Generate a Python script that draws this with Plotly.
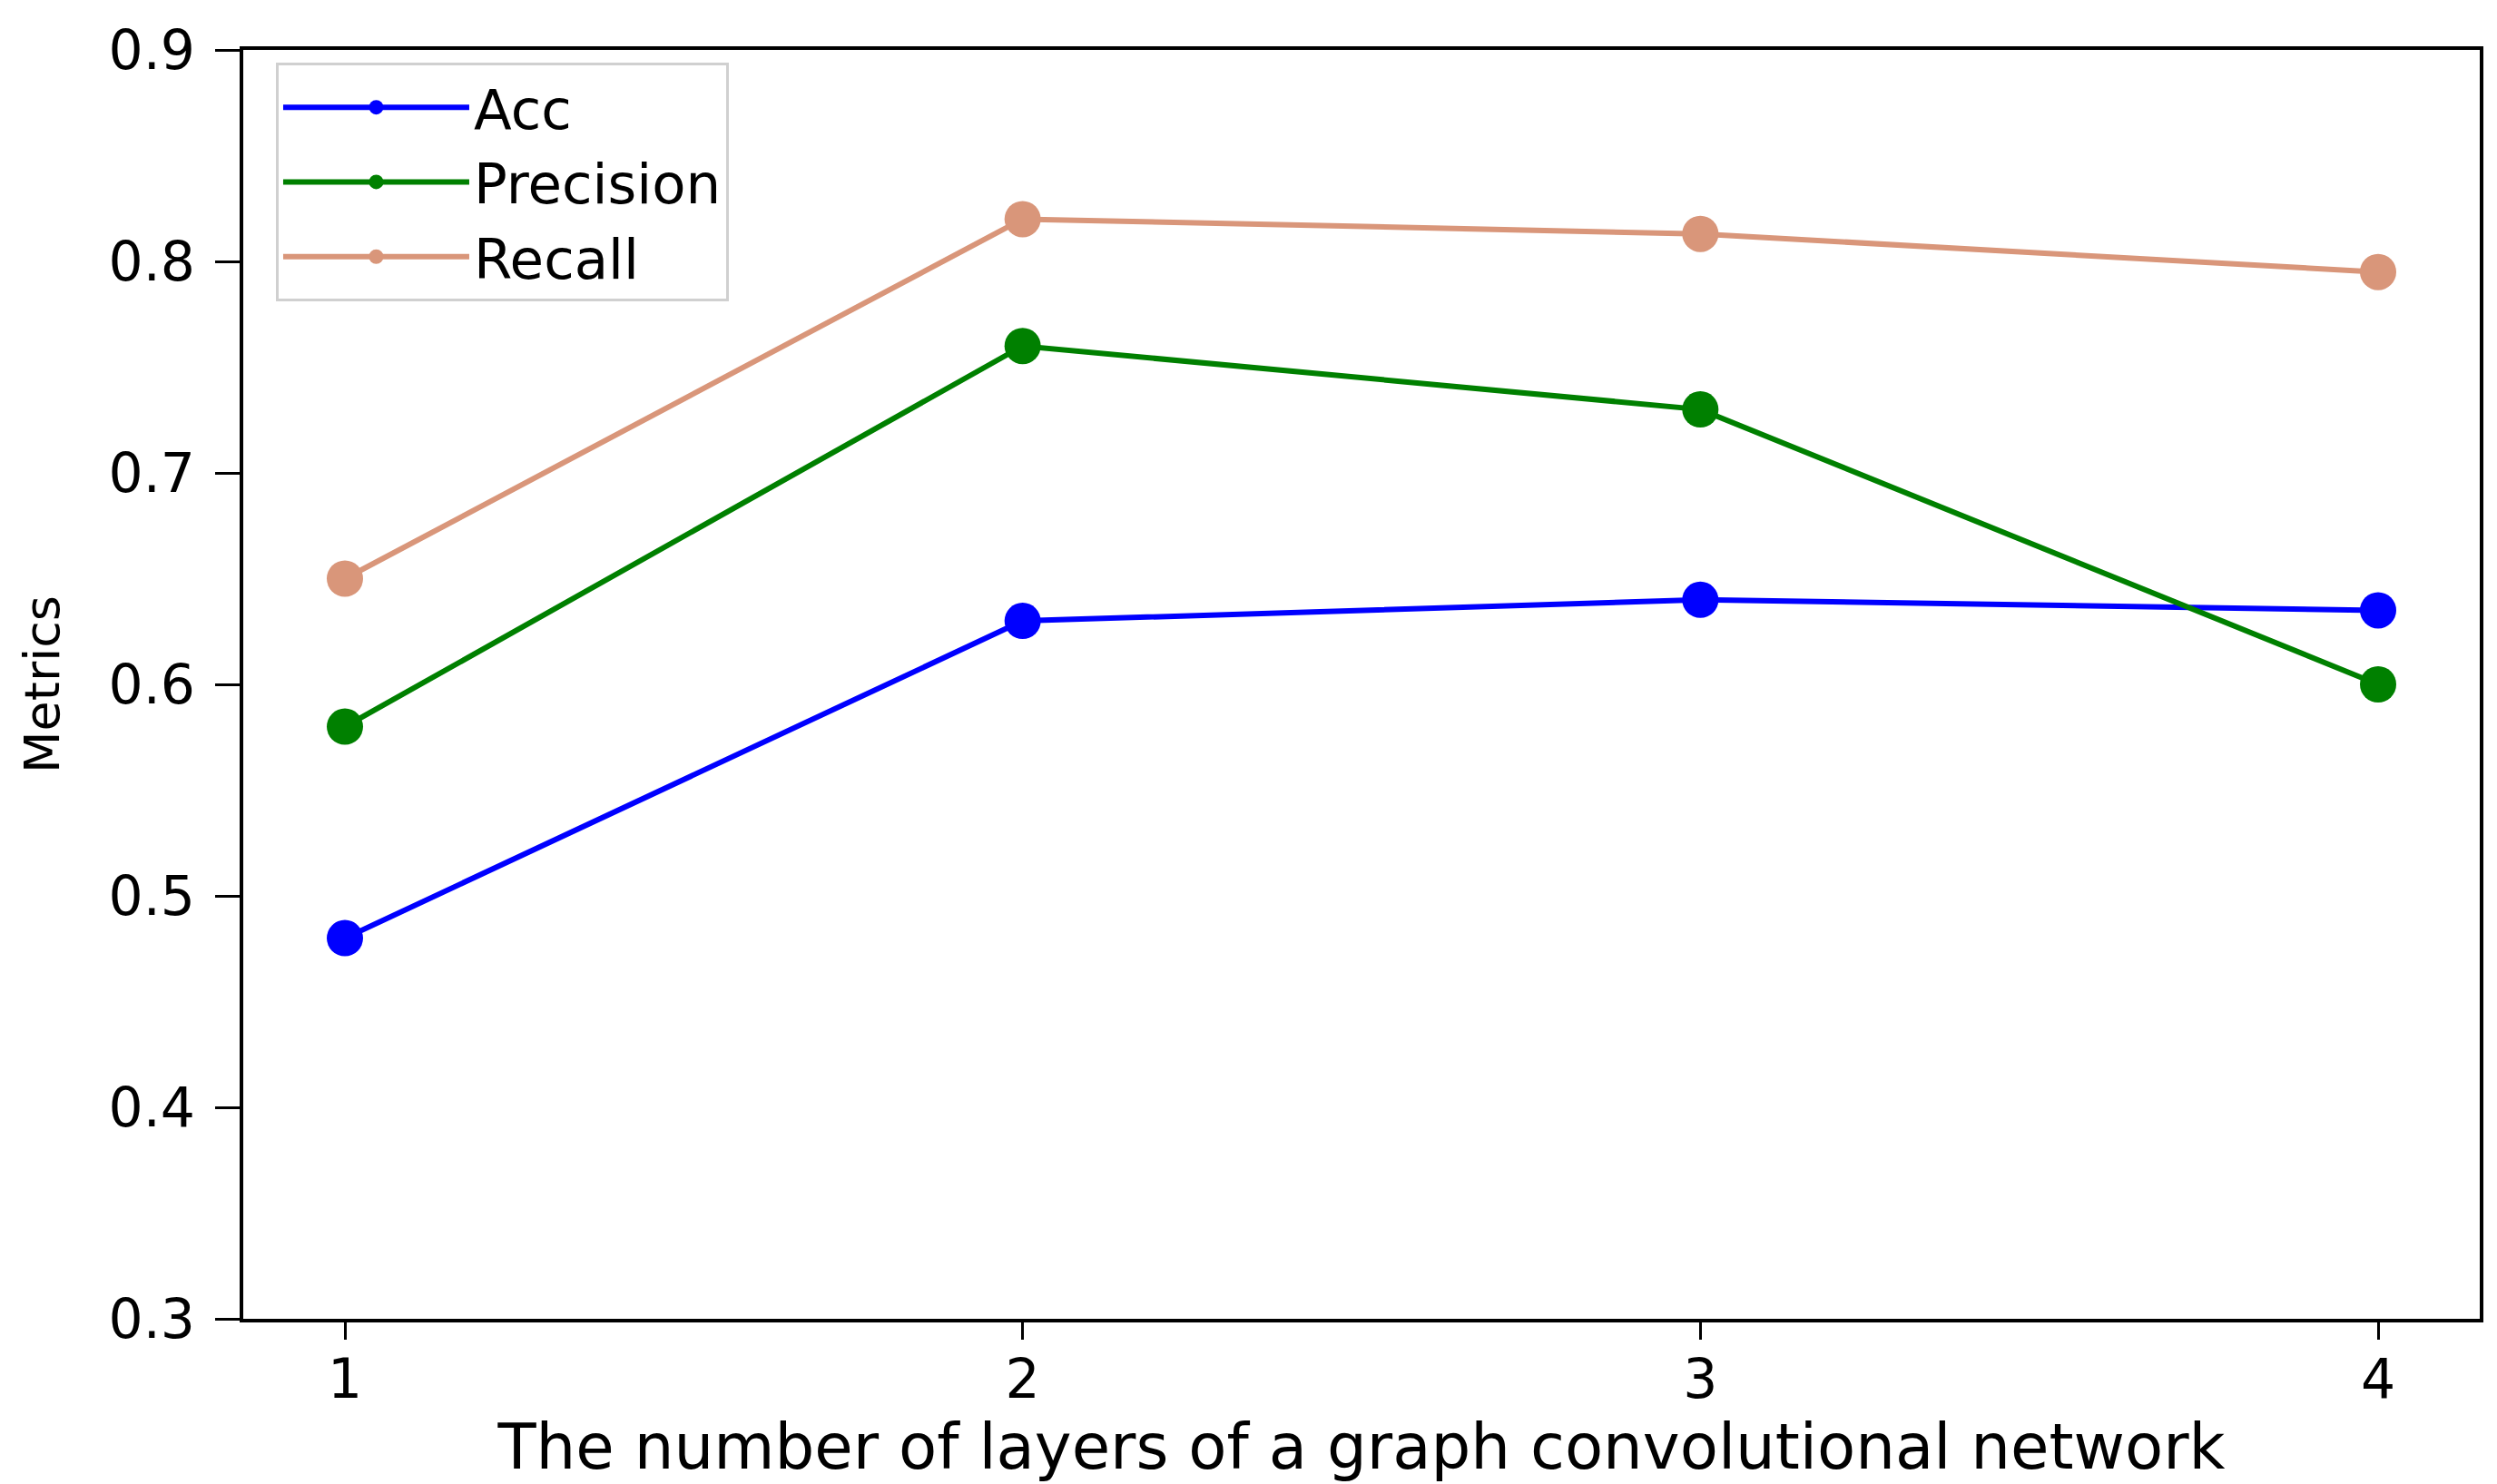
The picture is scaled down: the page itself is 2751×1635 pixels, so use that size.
import plotly.graph_objects as go

layers = [1, 2, 3, 4]
acc = [0.48, 0.63, 0.64, 0.635]
precision = [0.58, 0.76, 0.73, 0.60]
recall = [0.65, 0.82, 0.813, 0.795]

series = [("Acc", acc, "#0000FF"), ("Precision", precision, "#008000"), ("Recall", recall, "#D9967A")]

FONT = "DejaVu Sans"

fig = go.Figure()
for name, vals, color in series:
    fig.add_trace(go.Scatter(
        x=layers, y=vals, name=name, mode="lines+markers",
        line=dict(color=color, width=6),
        marker=dict(color=color, size=40),
    ))

fig.update_layout(
    width=2751, height=1635,
    paper_bgcolor="white", plot_bgcolor="white",
    margin=dict(l=260, r=27, t=36, b=190),
    font=dict(family=FONT, size=58, color="black"),
    legend=dict(
        x=0.0146, y=0.99, xanchor="left", yanchor="top",
        bgcolor="white", bordercolor="#D0D0D0", borderwidth=3,
        font=dict(family=FONT, size=61, color="black"),
        itemwidth=205, itemsizing="trace",
    ),
    showlegend=True,
)
fig.update_xaxes(
    range=[0.85, 4.15], tickvals=layers, ticktext=[str(v) for v in layers],
    showline=True, linecolor="black", linewidth=4, mirror=True,
    ticks="outside", ticklen=19, tickwidth=3, tickcolor="black",
    showgrid=False, zeroline=False, ticklabelstandoff=-8,
    title=dict(text="The number of layers of a graph convolutional network", standoff=2,
               font=dict(family=FONT, size=69)),
    tickfont=dict(family=FONT, size=60),
)
fig.update_yaxes(
    range=[0.3, 0.9], dtick=0.1, tick0=0.3, tickformat=".1f",
    showline=True, linecolor="black", linewidth=4, mirror=True,
    ticks="outside", ticklen=27, tickwidth=3, tickcolor="black",
    showgrid=False, zeroline=False, ticklabelstandoff=10,
    title=dict(text="Metrics", standoff=38, font=dict(family=FONT, size=54)),
    tickfont=dict(family=FONT, size=60),
)

fig.write_html("out.html")
